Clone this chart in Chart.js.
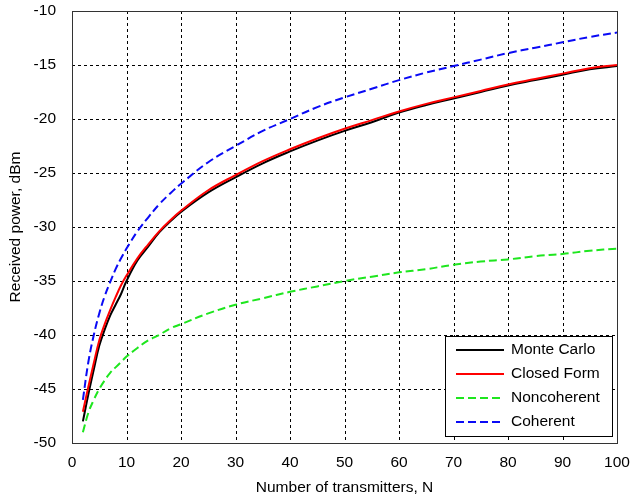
<!DOCTYPE html>
<html>
<head>
<meta charset="utf-8">
<script src="https://cdn.jsdelivr.net/npm/chart.js@4"></script>
<style>
    html, body { margin: 0; padding: 0; background: #fff; }
    #wrap { width: 630px; height: 499px; }
</style>
</head>
<body>
<div id="wrap"><canvas id="powerChart" width="630" height="499"></canvas></div>
<script>
// Number of transmitters N (x positions of samples)
const nValues = [2, 3, 4, 5, 6, 7, 8, 9, 10, 12, 14, 16, 18, 20, 25, 30, 35, 40, 45, 50, 55, 60, 65, 70, 75, 80, 85, 90, 95, 100];

// Received power, dBm
const monteCarlo = [-48.0, -45.5, -43.2, -41.0, -39.5, -38.2, -37.2, -36.2, -35.0, -33.1, -31.8, -30.5, -29.5, -28.6, -26.8, -25.4, -24.1, -23.0, -22.0, -21.1, -20.3, -19.4, -18.7, -18.1, -17.5, -16.9, -16.4, -15.9, -15.4, -15.1];
const closedForm = [-47.1, -44.8, -42.6, -40.5, -39.0, -37.7, -36.5, -35.4, -34.5, -32.9, -31.6, -30.4, -29.4, -28.5, -26.6, -25.2, -23.9, -22.8, -21.8, -20.9, -20.1, -19.3, -18.6, -18.0, -17.4, -16.8, -16.3, -15.8, -15.3, -15.0];
const noncoherent = [-49.0, -47.2, -46.0, -45.0, -44.2, -43.5, -43.0, -42.5, -42.0, -41.2, -40.5, -40.0, -39.4, -39.0, -38.0, -37.2, -36.6, -36.0, -35.5, -35.0, -34.6, -34.2, -33.9, -33.5, -33.2, -33.0, -32.7, -32.5, -32.2, -32.0];
const coherent = [-46.0, -42.5, -40.0, -38.0, -36.4, -35.1, -33.9, -32.9, -32.0, -30.4, -29.1, -27.9, -26.9, -26.0, -24.0, -22.5, -21.1, -20.0, -18.9, -18.0, -17.2, -16.4, -15.7, -15.1, -14.5, -13.9, -13.4, -12.9, -12.4, -12.0];

const xTicks = [0, 10, 20, 30, 40, 50, 60, 70, 80, 90, 100];
const yTicks = [-50, -45, -40, -35, -30, -25, -20, -15, -10];

const FONT = "'Liberation Sans', Arial, sans-serif";

function toPoints(values) {
    return nValues.map((n, i) => ({ x: n, y: values[i] }));
}

// Legend box drawn inside the plot, bottom right (MATLAB style)
const boxLegend = {
    id: 'boxLegend',
    afterDatasetsDraw(chart) {
        const ctx = chart.ctx;
        const area = chart.chartArea;
        const w = 167, h = 100, rowH = 24;
        const left = area.right - 5 - w;
        const top = area.bottom - 7 - h;
        ctx.save();
        ctx.fillStyle = '#ffffff';
        ctx.fillRect(left, top, w, h);
        ctx.strokeStyle = '#000000';
        ctx.lineWidth = 1;
        ctx.strokeRect(left + 0.5, top + 0.5, w, h);
        ctx.font = '15.5px ' + FONT;
        ctx.textBaseline = 'middle';
        chart.data.datasets.forEach((ds, i) => {
            const y = top + 14 + i * rowH;
            ctx.beginPath();
            ctx.strokeStyle = ds.borderColor;
            ctx.lineWidth = 2;
            ctx.setLineDash(ds.borderDash || []);
            ctx.moveTo(left + 11, y);
            ctx.lineTo(left + 59, y);
            ctx.stroke();
            ctx.setLineDash([]);
            ctx.fillStyle = '#000000';
            ctx.fillText(ds.label, left + 66, y);
        });
        ctx.restore();
    }
};

// Dotted grid and plot frame
const gridFrame = {
    id: 'gridFrame',
    beforeDatasetsDraw(chart) {
        const { ctx, chartArea: a, scales } = chart;
        ctx.save();
        ctx.strokeStyle = '#000000';
        ctx.lineWidth = 1;
        ctx.setLineDash([3, 3]);
        xTicks.forEach(v => {
            const px = Math.round(scales.x.getPixelForValue(v)) + 0.5;
            if (v === xTicks[0] || v === xTicks[xTicks.length - 1]) return;
            ctx.beginPath();
            ctx.moveTo(px, a.top);
            ctx.lineTo(px, a.bottom);
            ctx.stroke();
        });
        yTicks.forEach(v => {
            const py = Math.round(scales.y.getPixelForValue(v)) + 0.5;
            if (v === yTicks[0] || v === yTicks[yTicks.length - 1]) return;
            ctx.beginPath();
            ctx.moveTo(a.left, py);
            ctx.lineTo(a.right, py);
            ctx.stroke();
        });
        ctx.setLineDash([]);
        ctx.strokeStyle = '#333333';
        ctx.strokeRect(a.left + 0.5, a.top + 0.5, a.right - a.left, a.bottom - a.top);
        ctx.restore();
    }
};

const powerCtx = document.getElementById('powerChart').getContext('2d');
const powerChart = new Chart(powerCtx, {
    type: 'line',
    data: {
        datasets: [
            {
                label: 'Monte Carlo',
                data: toPoints(monteCarlo),
                borderColor: '#000000',
                borderWidth: 2,
                pointRadius: 0,
                tension: 0.4,
                order: 2
            },
            {
                label: 'Closed Form',
                data: toPoints(closedForm),
                borderColor: '#ff0000',
                borderWidth: 2,
                pointRadius: 0,
                tension: 0.4,
                order: 1
            },
            {
                label: 'Noncoherent',
                data: toPoints(noncoherent),
                borderColor: '#1ee61e',
                borderWidth: 2,
                borderDash: [8, 4],
                pointRadius: 0,
                tension: 0.4,
                order: 1
            },
            {
                label: 'Coherent',
                data: toPoints(coherent),
                borderColor: '#0a0af5',
                borderWidth: 2,
                borderDash: [8, 4],
                pointRadius: 0,
                tension: 0.4,
                order: 1
            }
        ]
    },
    options: {
        responsive: false,
        animation: false,
        layout: { padding: { left: 0, top: 11, right: 13, bottom: 0 } },
        plugins: {
            legend: { display: false },
            tooltip: { enabled: false }
        },
        scales: {
            x: {
                type: 'linear',
                min: 0,
                max: 100,
                afterBuildTicks: (scale) => { scale.ticks = xTicks.map(v => ({ value: v })); },
                afterFit: (scale) => {
                    scale.height = 56;
                    scale.paddingLeft = 0;
                    scale.paddingRight = 0;
                },
                grid: { display: false },
                border: { display: false },
                ticks: { color: '#000000', padding: 2, maxRotation: 0, font: { family: FONT, size: 15.5 } },
                title: {
                    display: true,
                    text: 'Number of transmitters, N',
                    color: '#000000',
                    padding: { top: 4, bottom: 2 },
                    font: { family: FONT, size: 15.5 }
                }
            },
            y: {
                min: -50,
                max: -10,
                afterBuildTicks: (scale) => { scale.ticks = yTicks.map(v => ({ value: v })); },
                afterFit: (scale) => {
                    scale.width = 72;
                    scale.paddingTop = 0;
                    scale.paddingBottom = 0;
                },
                grid: { display: false },
                border: { display: false },
                ticks: { color: '#000000', padding: 8, font: { family: FONT, size: 15.5 } },
                title: {
                    display: true,
                    text: 'Received power, dBm',
                    color: '#000000',
                    padding: { top: 6, bottom: 4 },
                    font: { family: FONT, size: 15.5 }
                }
            }
        }
    },
    plugins: [gridFrame, boxLegend]
});
</script>
</body>
</html>
